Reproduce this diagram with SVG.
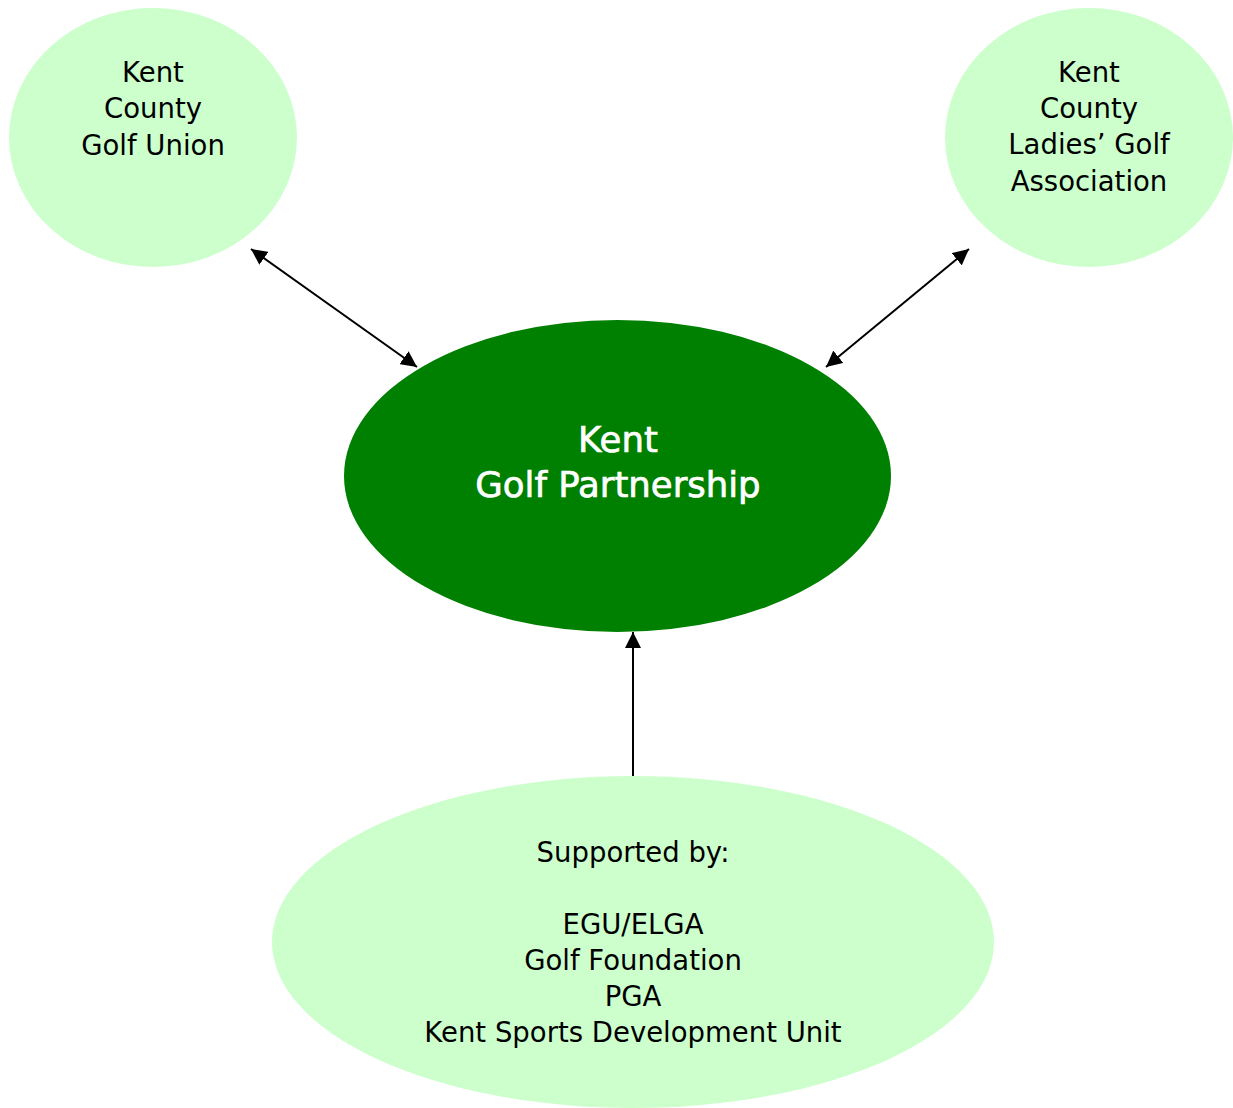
<svg xmlns="http://www.w3.org/2000/svg" width="1233" height="1108" viewBox="0 0 1233 1108">
<defs>
<style>
.light{fill:#CCFFCC;stroke:none}
.dark{fill:#008000;stroke:none}
.t{font-family:"DejaVu Sans","Liberation Sans",sans-serif;font-size:27.5px;fill:#000;text-anchor:middle}
.tw{font-family:"DejaVu Sans","Liberation Sans",sans-serif;font-size:35.5px;fill:#fff;stroke:#fff;stroke-width:0.7;text-anchor:middle}
.c{stroke:#000;stroke-width:2;fill:none}
</style>
<marker id="ah2" viewBox="0 0 10 10" refX="10" refY="5" markerWidth="16" markerHeight="16" markerUnits="userSpaceOnUse" orient="auto-start-reverse">
<path d="M0,0 L10,5 L0,10 z" fill="#000"/>
</marker>
</defs>
<rect width="1233" height="1108" fill="#fff"/>
<g id="kcgu">
<ellipse class="light" cx="153" cy="137.5" rx="144" ry="129.5"/>
<text class="t" x="153" y="82">Kent</text>
<text class="t" x="153" y="118">County</text>
<text class="t" x="153" y="155">Golf Union</text>
</g>
<g id="kclga">
<ellipse class="light" cx="1089" cy="137.5" rx="144" ry="129.5"/>
<text class="t" x="1089" y="82">Kent</text>
<text class="t" x="1089" y="118">County</text>
<text class="t" x="1089" y="154">Ladies’ Golf</text>
<text class="t" x="1089" y="191">Association</text>
</g>
<g id="kgp">
<ellipse class="dark" cx="617.5" cy="476" rx="273.5" ry="156"/>
<text class="tw" x="618" y="452">Kent</text>
<text class="tw" x="618" y="497">Golf Partnership</text>
</g>
<g id="support">
<ellipse class="light" cx="633" cy="942" rx="361" ry="166"/>
<text class="t" x="633" y="862">Supported by:</text>
<text class="t" x="633" y="934">EGU/ELGA</text>
<text class="t" x="633" y="970">Golf Foundation</text>
<text class="t" x="633" y="1006">PGA</text>
<text class="t" x="633" y="1042">Kent Sports Development Unit</text>
</g>
<g id="connectors">
<line class="c" x1="251" y1="249" x2="417" y2="367" marker-start="url(#ah2)" marker-end="url(#ah2)"/>
<line class="c" x1="969" y1="249" x2="826" y2="367" marker-start="url(#ah2)" marker-end="url(#ah2)"/>
<line class="c" x1="633" y1="776" x2="633" y2="632" marker-end="url(#ah2)"/>
</g>
</svg>
